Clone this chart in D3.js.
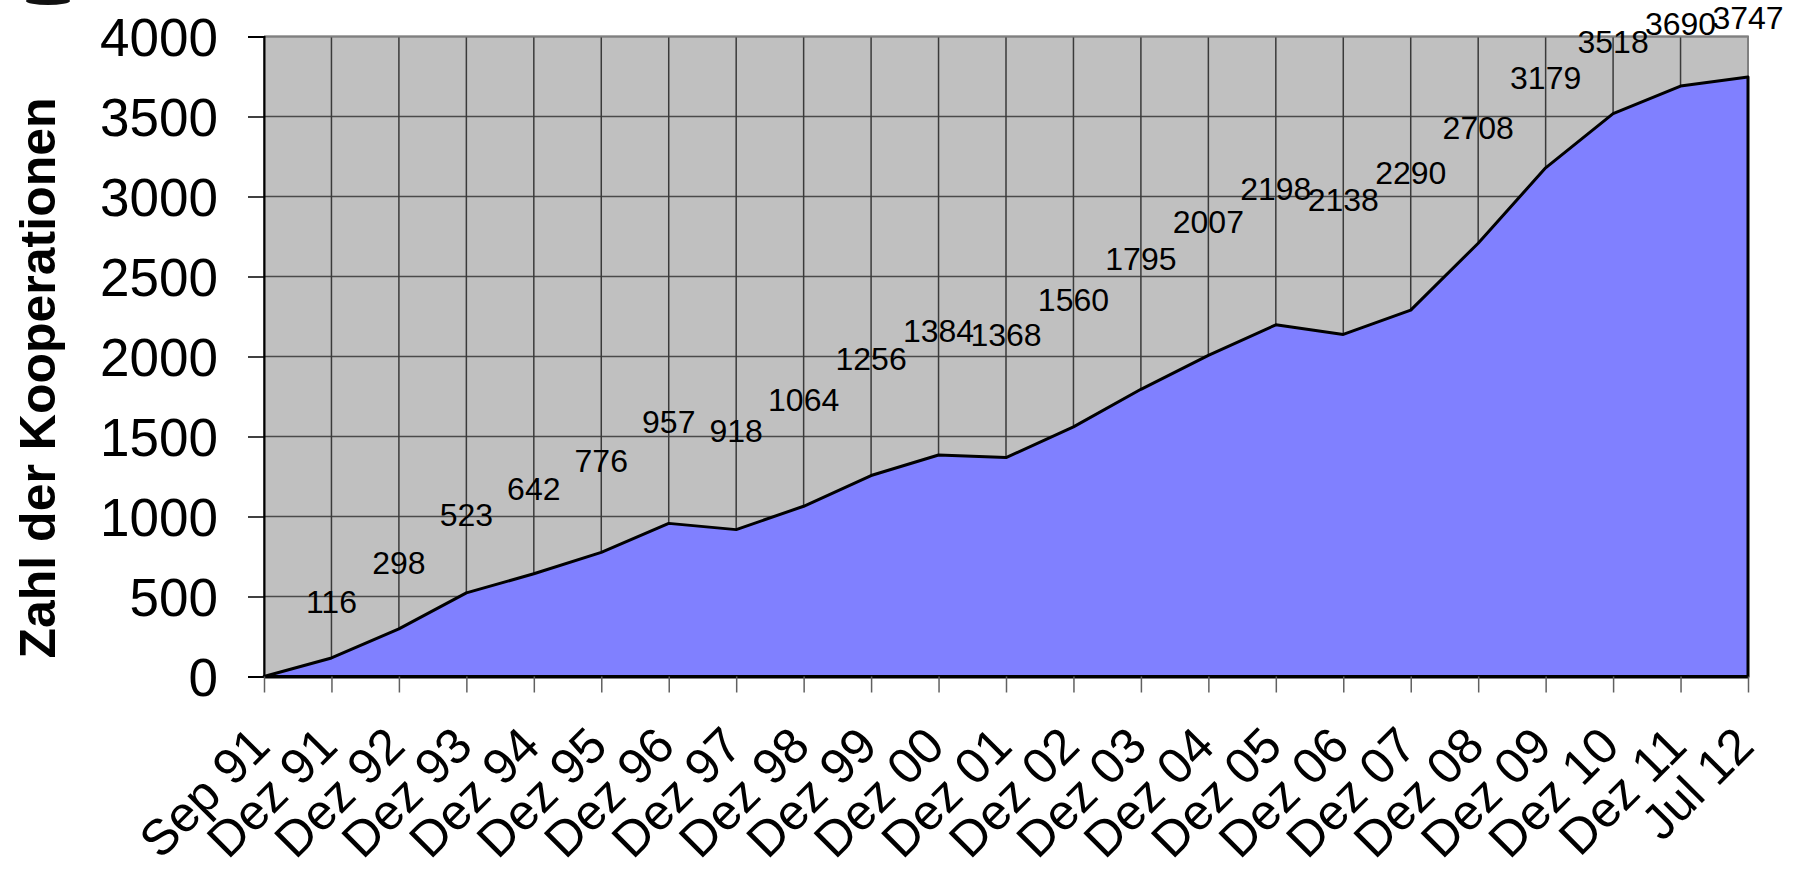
<html>
<head>
  <script src="https://d3js.org/d3.v7.min.js"></script>
  <style>
    body{
      margin:0px;
      background-color:#ffffff;
    }
    svg text{
      font-family:"Liberation Sans", Arial, sans-serif;
      fill:#000000;
    }
  </style>
</head>
<body>
  <svg id="chart" width="1806" height="872"></svg>

<script>
  var categories = ["Sep 91","Dez 91","Dez 92","Dez 93","Dez 94","Dez 95","Dez 96","Dez 97","Dez 98","Dez 99",
                    "Dez 00","Dez 01","Dez 02","Dez 03","Dez 04","Dez 05","Dez 06","Dez 07","Dez 08","Dez 09",
                    "Dez 10","Dez 11","Jul 12"]
  var kooperationen = [0,116,298,523,642,776,957,918,1064,1256,1384,1368,1560,1795,2007,2198,2138,2290,2708,3179,3518,3690,3747]
  var yTicks = [0,500,1000,1500,2000,2500,3000,3500,4000]
  var yTitle = "Zahl der Kooperationen"

  var plotLeft = 264, plotRight = 1748, plotTop = 36.5, plotBottom = 676.5

  var svg = d3.select("#chart")

  var xscale = d3.scalePoint()
      .domain(categories)
      .range([plotLeft, plotRight]);
  var yscale = d3.scaleLinear()
      .domain([0, 4000])
      .range([plotBottom, plotTop]);
  // the data labels were dragged up by hand in the original, this maps a value to where its label sits
  var labelscale = d3.scaleLinear()
      .domain([0, 1400, 2300, 3747])
      .range([317, 2182, 3160, 4120]);

  // plot area
  svg.append("rect")
      .attr("x", plotLeft).attr("y", plotTop)
      .attr("width", plotRight-plotLeft).attr("height", plotBottom-plotTop)
      .attr("fill", "#c0c0c0");

  // grid
  svg.append("g")
      .selectAll("line")
      .data(yTicks)
      .enter()
      .append("line")
      .attr("x1", plotLeft).attr("x2", plotRight)
      .attr("y1", function(d){ return yscale(d); })
      .attr("y2", function(d){ return yscale(d); })
      .attr("stroke", "#4a4a4a")
      .attr("stroke-width", 1.5);
  svg.append("g")
      .selectAll("line")
      .data(categories)
      .enter()
      .append("line")
      .attr("x1", function(d){ return xscale(d); })
      .attr("x2", function(d){ return xscale(d); })
      .attr("y1", plotTop).attr("y2", plotBottom)
      .attr("stroke", "#3a3a3a")
      .attr("stroke-width", 1.5);

  // border top + right
  svg.append("path")
      .attr("d", "M" + plotLeft + "," + plotTop + "H" + plotRight + "V" + plotBottom)
      .attr("fill", "none")
      .attr("stroke", "#808080")
      .attr("stroke-width", 2);

  // area
  var area = d3.area()
      .x(function(d,i){ return xscale(categories[i]); })
      .y0(plotBottom)
      .y1(function(d){ return yscale(d); });
  svg.append("path")
      .datum(kooperationen)
      .attr("d", function(d){ return area(d) + "Z"; })
      .attr("fill", "#8080ff")
      .attr("stroke", "#000000")
      .attr("stroke-width", 3)
      .attr("stroke-linejoin", "round");

  // y axis
  var yaxis = svg.append("g")
      .attr("transform", "translate(" + plotLeft + ",0)")
      .call(d3.axisLeft(yscale).tickValues(yTicks).tickSize(16).tickPadding(30).tickFormat(d3.format("d")));
  yaxis.select(".domain").attr("stroke", "#000000").attr("stroke-width", 2);
  yaxis.selectAll(".tick line").attr("stroke", "#000000").attr("stroke-width", 1.5);
  yaxis.selectAll(".tick text")
      .attr("font-size", 53)
      .attr("dy", "0.36em");

  // x axis
  var xaxis = svg.append("g")
      .attr("transform", "translate(0," + plotBottom + ")")
      .call(d3.axisBottom(xscale).tickSize(16).tickSizeOuter(0));
  xaxis.select(".domain").attr("stroke", "#000000").attr("stroke-width", 3);
  xaxis.selectAll(".tick line").attr("stroke", "#606060").attr("stroke-width", 1.5);
  xaxis.selectAll(".tick text")
      .attr("font-size", 50)
      .attr("text-anchor", "end")
      .attr("x", 0).attr("y", 0).attr("dy", 0)
      .attr("transform", "translate(8,72) rotate(-45)");

  // data labels
  svg.append("g")
      .selectAll("text")
      .data(kooperationen)
      .enter()
      .filter(function(d){ return d > 0; })
      .append("text")
      .attr("x", function(d){ return xscale(categories[kooperationen.indexOf(d)]); })
      .attr("y", function(d){ return yscale(labelscale(d)); })
      .attr("dy", "0.36em")
      .attr("text-anchor", "middle")
      .attr("font-size", 32)
      .text(function(d){ return d; });

  // y title
  svg.append("text")
      .attr("transform", "translate(55,378) rotate(-90)")
      .attr("text-anchor", "middle")
      .attr("font-size", 50)
      .attr("font-weight", "bold")
      .text(yTitle);

  // scan smudge in the corner
  svg.append("ellipse")
      .attr("cx", 48).attr("cy", 1)
      .attr("rx", 22).attr("ry", 4)
      .attr("fill", "#111111");
</script>
</body>
</html>
